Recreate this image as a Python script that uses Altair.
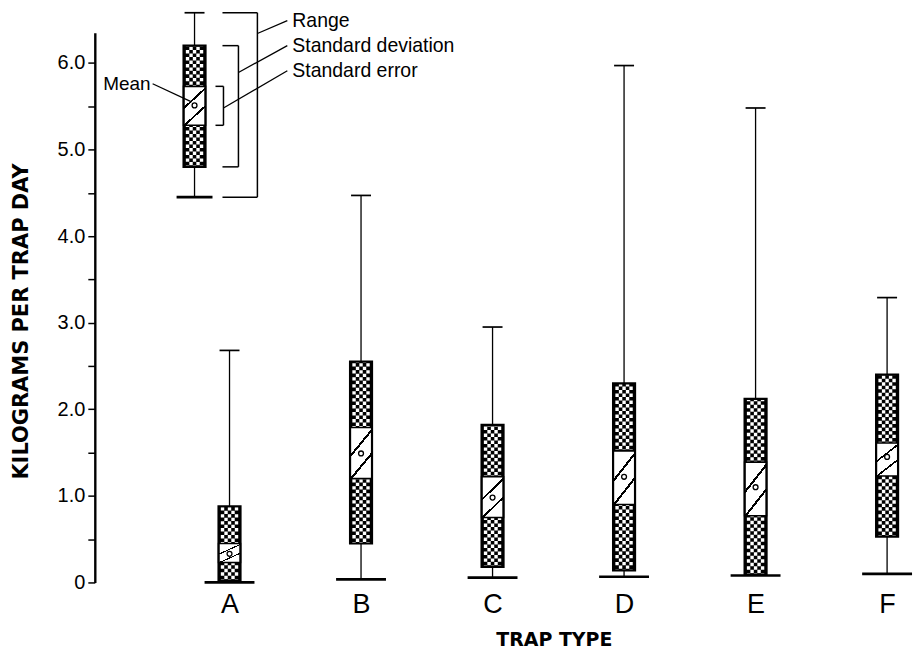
import json
import altair as alt
import pandas as pd

# ---------------- data ----------------
traps = ["A", "B", "C", "D", "E", "F"]
trap_pos = [1, 2, 3, 4, 5, 6]
range_max = [2.68, 4.47, 2.95, 5.97, 5.48, 3.29]
range_min = [0.00, 0.035, 0.055, 0.066, 0.08, 0.10]
sd_hi = [0.88, 2.55, 1.82, 2.30, 2.12, 2.40]
sd_lo = [0.02, 0.45, 0.18, 0.14, 0.09, 0.53]
se_hi = [0.45, 1.79, 1.22, 1.52, 1.39, 1.61]
se_lo = [0.23, 1.20, 0.75, 0.90, 0.77, 1.23]
means = [0.33, 1.49, 0.98, 1.22, 1.10, 1.45]

# explanatory key box
key_pos = [0.734]
key_max = [6.58]
key_min = [4.45]
key_sd_hi = [6.20]
key_sd_lo = [4.80]
key_se_hi = [5.73]
key_se_lo = [5.28]
key_mean = [5.51]

key_labels = ["Range", "Standard deviation", "Standard error"]
key_label_y = [6.49, 6.20, 5.91]
key_leader_y = [6.34, 5.89, 5.48]
mean_label = ["Mean"]
mean_label_y = [5.76]
mean_leader_end_y = [5.55]

y_tick_values = [0, 0.5, 1.0, 1.5, 2.0, 2.5, 3.0, 3.5, 4.0, 4.5, 5.0, 5.5, 6.0]

# ---------------- tables ----------------
boxes = pd.DataFrame(dict(pos=trap_pos, trap=traps, vmax=range_max, vmin=range_min,
                          sdhi=sd_hi, sdlo=sd_lo, sehi=se_hi, selo=se_lo, mean=means))
key = pd.DataFrame(dict(pos=key_pos, vmax=key_max, vmin=key_min, sdhi=key_sd_hi,
                        sdlo=key_sd_lo, sehi=key_se_hi, selo=key_se_lo, mean=key_mean))


def segments(df):
    rows = []
    for _, r in df.iterrows():
        rows.append(dict(pos=r.pos, lo=r.sehi, hi=r.sdhi))
        rows.append(dict(pos=r.pos, lo=r.sdlo, hi=r.selo))
    return pd.DataFrame(rows)


ann = pd.DataFrame(dict(pos=key_pos * 3, label=key_labels, ty=key_label_y, ly=key_leader_y))
mean_ann = pd.DataFrame(dict(pos=key_pos, label=mean_label, ty=mean_label_y, ey=mean_leader_end_y))

# ---------------- scales / axes ----------------
SANS = "Liberation Sans, Arial, sans-serif"
xs = alt.Scale(domain=[-0.0243, 6.197], nice=False, zero=False)
ys = alt.Scale(domain=[0, 6.35], nice=False, zero=False)

x_label_expr = json.dumps(traps) + "[datum.value - 1]"
x_axis = alt.Axis(values=trap_pos, labelExpr=x_label_expr, domain=False, ticks=False,
                  grid=False, labelFont=SANS, labelFontSize=27,
                  labelColor="black", labelPadding=9, labelFlush=False,
                  title="TRAP TYPE", titleFont="DejaVu Sans", titleFontWeight="bold",
                  titleFontSize=19, titleColor="black", titleX=460, titleY=57,
                  titleBaseline="middle")
y_axis = alt.Axis(values=y_tick_values,
                  labelExpr="datum.value % 1 == 0 ? (datum.value == 0 ? '0' : format(datum.value, '.1f')) : ''",
                  grid=False, domainColor="black", domainWidth=2.4, tickColor="black",
                  tickWidth=1.5, tickSize=7, labelFont=SANS, labelFontSize=20,
                  labelColor="black", labelPadding=3, labelOverlap=False, labelFlush=False,
                  title="KILOGRAMS PER TRAP DAY", titleFont="DejaVu Sans",
                  titleFontWeight="bold", titleFontSize=21, titleColor="black",
                  titleX=-73, titleY=289, titleBaseline="middle")


def X(field="pos"):
    return alt.X(field, type="quantitative", scale=xs, axis=x_axis)


def Y(field):
    return alt.Y(field, type="quantitative", scale=ys, axis=y_axis)


se_fill = {
    "gradient": "linear", "x1": 0, "y1": 0, "x2": 0.52, "y2": 1,
    "stops": [
        {"offset": 0, "color": "white"}, {"offset": 0.42, "color": "white"},
        {"offset": 0.42, "color": "black"}, {"offset": 0.47, "color": "black"},
        {"offset": 0.47, "color": "white"}, {"offset": 0.78, "color": "white"},
        {"offset": 0.78, "color": "black"}, {"offset": 0.83, "color": "black"},
        {"offset": 0.83, "color": "white"}, {"offset": 1, "color": "white"},
    ],
}


def box_layers(df, cap_half):
    base = alt.Chart(df)
    segs = alt.Chart(segments(df))
    L = []
    L.append(base.mark_rule(color="black", strokeWidth=1.3).encode(
        x=X(), y=Y("sdhi"), y2="vmax"))
    L.append(base.mark_rule(color="black", strokeWidth=1.3).encode(
        x=X(), y=Y("vmin"), y2="sdlo"))
    L.append(base.mark_rule(color="black", strokeWidth=1.7, xOffset=-10, x2Offset=10).encode(
        x=X(), x2="pos", y=Y("vmax")))
    L.append(base.mark_rule(color="black", strokeWidth=2.7, xOffset=-cap_half,
                            x2Offset=cap_half).encode(x=X(), x2="pos", y=Y("vmin")))
    L.append(base.mark_rect(color="black", xOffset=-11, x2Offset=11).encode(
        x=X(), x2="pos", y=Y("sdlo"), y2="sdhi"))
    for off, dash_off in [(-7, 0), (-3.5, 3.5), (0, 0), (3.5, 3.5), (7, 0)]:
        L.append(segs.mark_rule(color="white", strokeWidth=3.4, strokeDash=[3.4, 3.6],
                                strokeDashOffset=dash_off + 2, xOffset=off).encode(
            x=X(), y=Y("lo"), y2="hi"))
    L.append(base.mark_rect(fill=se_fill, stroke="black", strokeWidth=1.6,
                            xOffset=-11, x2Offset=11).encode(
        x=X(), x2="pos", y=Y("selo"), y2="sehi"))
    L.append(base.mark_rect(fillOpacity=0, stroke="black", strokeWidth=2.2,
                            xOffset=-11, x2Offset=11).encode(
        x=X(), x2="pos", y=Y("sdlo"), y2="sdhi"))
    L.append(base.mark_point(shape="circle", filled=True, fill="white", stroke="black",
                             strokeWidth=1.3, size=24, opacity=1).encode(
        x=X(), y=Y("mean")))
    return L


layers = box_layers(boxes, 25) + box_layers(key, 18)

# brackets of the key
kb = alt.Chart(key)
for lo, hi, arm0, vert in [("vmin", "vmax", 28, 63), ("sdlo", "sdhi", 28, 44), ("selo", "sehi", 21, 29)]:
    layers.append(kb.mark_rule(color="black", strokeWidth=1.5, xOffset=vert).encode(
        x=X(), y=Y(lo), y2=hi))
    for end in (lo, hi):
        layers.append(kb.mark_rule(color="black", strokeWidth=1.5, xOffset=arm0,
                                   x2Offset=vert).encode(x=X(), x2="pos", y=Y(end)))

# leader lines + labels
annc = alt.Chart(ann)
for lab, start in zip(key_labels, [63, 44, 29]):
    layers.append(annc.transform_filter(alt.datum.label == lab).mark_rule(
        color="black", strokeWidth=1.3, xOffset=start, x2Offset=93).encode(
        x=X(), x2="pos", y=Y("ly"), y2="ty"))
layers.append(annc.mark_text(align="left", baseline="middle", dx=98, font=SANS,
                             fontSize=19.5, color="black").encode(
    x=X(), y=Y("ty"), text="label"))

mc = alt.Chart(mean_ann)
layers.append(mc.mark_rule(color="black", strokeWidth=1.3, xOffset=-42, x2Offset=-3).encode(
    x=X(), x2="pos", y=Y("ty"), y2="ey"))
layers.append(mc.mark_text(align="right", baseline="middle", dx=-44, font=SANS,
                           fontSize=19, color="black").encode(
    x=X(), y=Y("ty"), text="label"))

chart = alt.layer(*layers).properties(
    width=820, height=551,
    autosize=alt.AutoSizeParams(type="none"),
    padding={"left": 87, "top": 24, "right": 0, "bottom": 72},
    background="white",
).configure_view(stroke=None)

chart.save("out.html", embed_options={"renderer": "svg", "actions": False})
